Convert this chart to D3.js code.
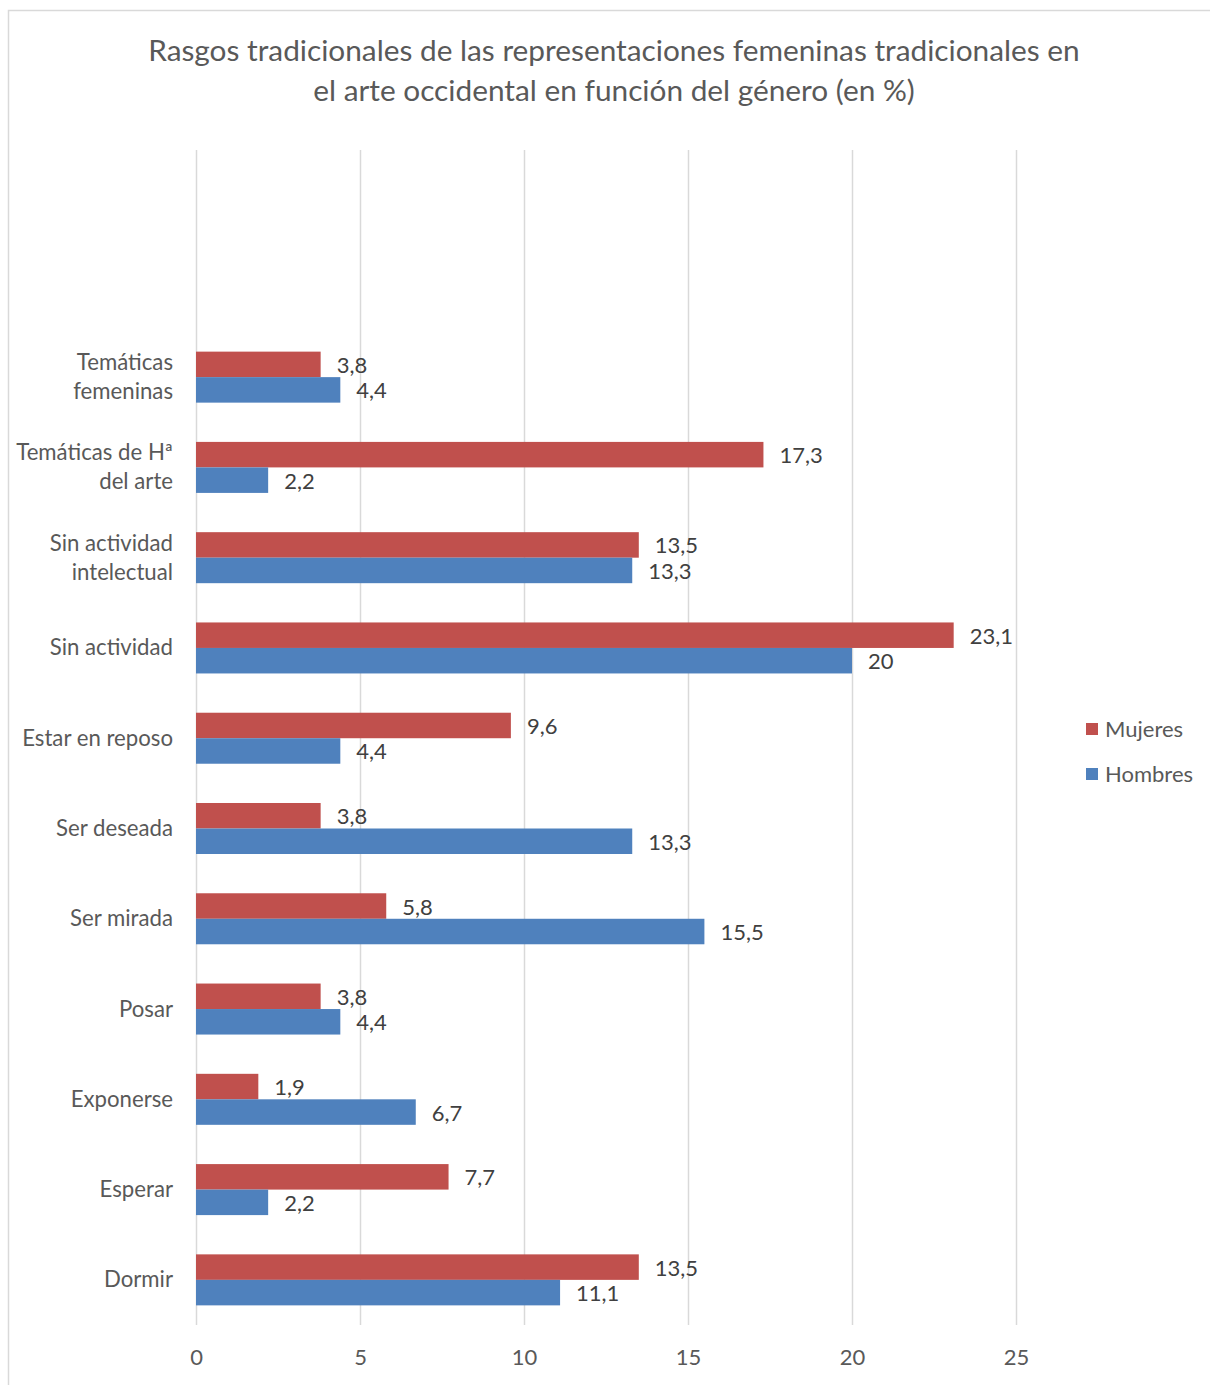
<!DOCTYPE html>
<html>
<head>
<meta charset="utf-8">
<script src="https://cdn.jsdelivr.net/npm/d3@7"></script>
<style>
  html, body { margin: 0; padding: 0; background: #fff; }
  svg { display: block; font-family: Lato, "Open Sans", sans-serif; }
</style>
</head>
<body>
<svg id="chart" width="1210" height="1385"></svg>
<script>
// Categories, top to bottom (multi-line labels split on "\n")
const categories = [
  "Temáticas\nfemeninas",
  "Temáticas de Hª\ndel arte",
  "Sin actividad\nintelectual",
  "Sin actividad",
  "Estar en reposo",
  "Ser deseada",
  "Ser mirada",
  "Posar",
  "Exponerse",
  "Esperar",
  "Dormir"
];
const seriesNames = ["Mujeres", "Hombres"];
const mujeres = [3.8, 17.3, 13.5, 23.1, 9.6, 3.8, 5.8, 3.8, 1.9, 7.7, 13.5];
const hombres = [4.4, 2.2, 13.3, 20, 4.4, 13.3, 15.5, 4.4, 6.7, 2.2, 11.1];
const xTicks = [0, 5, 10, 15, 20, 25];
const titleLines = [
  "Rasgos tradicionales de las representaciones femeninas tradicionales en",
  "el arte occidental en función del género (en %)"
];

const colors = { Mujeres: "#C0504D", Hombres: "#4F81BD" };
const rows = categories.map((c, i) => ({ cat: c, Mujeres: mujeres[i], Hombres: hombres[i] }));

const svg = d3.select("#chart");

// Chart frame
svg.append("rect")
  .attr("x", 8.5).attr("y", 10.5)
  .attr("width", 1220).attr("height", 1390)
  .attr("fill", "#fff").attr("stroke", "#d9d9d9").attr("stroke-width", 1.5);

// Title
svg.append("g").selectAll("text").data(titleLines).join("text")
  .attr("x", 614).attr("y", (d, i) => 61 + i * 40)
  .attr("text-anchor", "middle")
  .attr("fill", "#595959")
  .attr("font-size", 29.8)
  .text(d => d);

// Scales
const x = d3.scaleLinear().domain([0, 25]).range([196, 1016]);
const plotTop = 150, plotBottom = 1325;
const y = d3.scaleBand().domain(categories).range([332, plotBottom])
  .paddingInner(0.435).paddingOuter(0.2175);
const ySub = d3.scaleBand().domain(seriesNames).range([0, y.bandwidth()]);

// Vertical gridlines
svg.append("g").selectAll("line").data(xTicks).join("line")
  .attr("x1", d => x(d) + 0.5).attr("x2", d => x(d) + 0.5)
  .attr("y1", plotTop).attr("y2", plotBottom)
  .attr("stroke", "#d9d9d9").attr("stroke-width", 1.5);

// X axis labels
const xAxis = d3.axisBottom(x).tickValues(xTicks).tickSize(0).tickPadding(0)
  .tickFormat(d3.format("d"));
const xg = svg.append("g").attr("transform", `translate(0,${plotBottom + 40})`).call(xAxis);
xg.select(".domain").remove();
xg.selectAll("text").attr("fill", "#595959").attr("font-size", 22)
  .attr("font-family", "Lato, sans-serif").attr("dy", 0);

// Category labels
const catG = svg.append("g");
categories.forEach(c => {
  const lines = c.split("\n");
  const cy = y(c) + y.bandwidth() / 2;
  const lh = 29;
  lines.forEach((ln, j) => {
    catG.append("text")
      .attr("x", 173)
      .attr("y", cy + (j - (lines.length - 1) / 2) * lh + 7.5)
      .attr("text-anchor", "end")
      .attr("fill", "#595959")
      .attr("font-size", 22.2)
      .text(ln);
  });
});

// Bars
const fmt = v => String(v).replace(".", ",");
const groups = svg.append("g").selectAll("g").data(rows).join("g")
  .attr("transform", d => `translate(0,${y(d.cat)})`);

groups.selectAll("rect").data(d => seriesNames.map(k => ({ key: k, value: d[k] }))).join("rect")
  .attr("x", x(0))
  .attr("y", d => ySub(d.key))
  .attr("width", d => x(d.value) - x(0))
  .attr("height", ySub.bandwidth())
  .attr("fill", d => colors[d.key]);

groups.selectAll("text").data(d => seriesNames.map(k => ({ key: k, value: d[k] }))).join("text")
  .attr("x", d => x(d.value) + 16)
  .attr("y", d => ySub(d.key) + ySub.bandwidth() / 2 + 8.5)
  .attr("fill", "#404040")
  .attr("font-size", 22)
  .text(d => fmt(d.value));

// Legend
const leg = svg.append("g").selectAll("g").data(seriesNames).join("g")
  .attr("transform", (d, i) => `translate(1086,${723 + i * 45})`);
leg.append("rect").attr("width", 12).attr("height", 12).attr("fill", d => colors[d]);
leg.append("text").attr("x", 19).attr("y", 14).attr("fill", "#595959")
  .attr("font-size", 22).text(d => d);
</script>
</body>
</html>
